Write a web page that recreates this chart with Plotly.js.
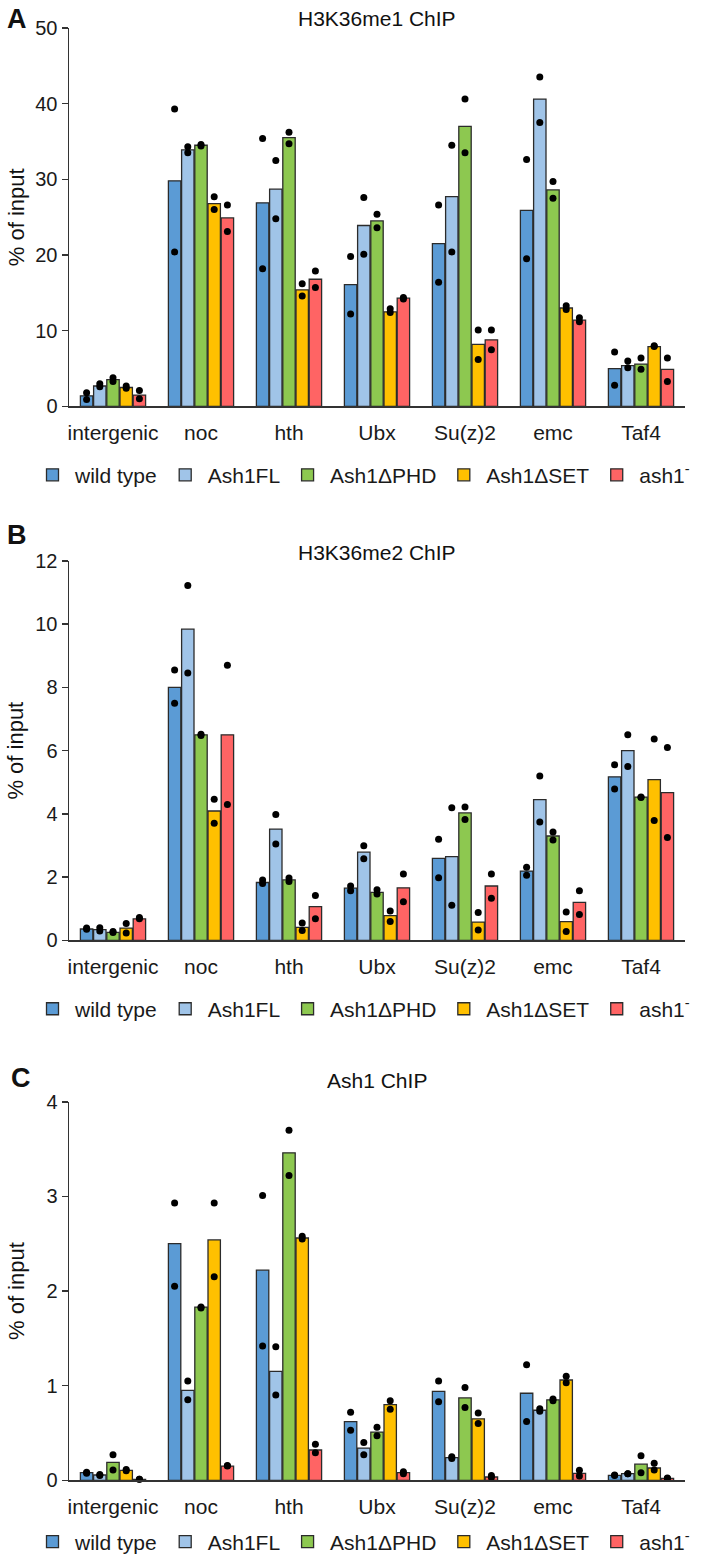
<!DOCTYPE html>
<html>
<head>
<meta charset="utf-8">
<script src="https://cdn.plot.ly/plotly-3.0.1.min.js"></script>
<style>
  body { margin: 0; background: #fff; }
  #chart { width: 709px; height: 1563px; }
</style>
</head>
<body>
<div id="chart"></div>
<script>
// Loci on the x axis
const genes = ['intergenic', 'noc', 'hth', 'Ubx', 'Su(z)2', 'emc', 'Taf4'];

// Strains (one bar per strain in each group)
const strains = ['wild type', 'Ash1FL', 'Ash1\u0394PHD', 'Ash1\u0394SET', 'ash1<sup>-</sup>'];
const strainColors = ['#5b9bd5', '#a0c4e8', '#8dc850', '#ffc000', '#ff6464'];

// A: H3K36me1 ChIP, % of input (rows follow strains)
const me1Bar = [
    [1.4, 29.8, 26.9, 16.1, 21.5, 25.9, 5.0],
    [2.7, 33.9, 28.7, 23.9, 27.7, 40.6, 5.4],
    [3.55, 34.5, 35.5, 24.5, 37.0, 28.6, 5.6],
    [2.5, 26.8, 15.4, 12.5, 8.2, 13.0, 7.9],
    [1.5, 24.9, 16.8, 14.3, 8.8, 11.4, 4.9]
];
const me1Rep1 = [
    [1.8, 39.3, 35.4, 19.8, 26.6, 32.6, 7.2],
    [3.0, 34.3, 32.5, 27.6, 34.5, 43.5, 6.0],
    [3.8, 34.6, 36.2, 25.4, 40.6, 29.7, 6.4],
    [2.7, 27.7, 16.2, 12.9, 10.1, 13.3, 8.0],
    [2.1, 26.6, 17.9, 14.4, 10.1, 11.7, 6.4]
];
const me1Rep2 = [
    [0.9, 20.4, 18.2, 12.2, 16.4, 19.5, 2.8],
    [2.6, 33.5, 24.8, 20.1, 20.4, 37.5, 5.1],
    [3.3, 34.4, 34.7, 23.6, 33.5, 27.5, 4.9],
    [2.4, 26.0, 14.6, 12.4, 6.2, 12.8, 7.9],
    [1.0, 23.1, 15.7, 14.2, 7.5, 11.2, 3.3]
];

// B: H3K36me2 ChIP
const me2Bar = [
    [0.36, 8.0, 1.83, 1.65, 2.59, 2.19, 5.17],
    [0.34, 9.84, 3.52, 2.79, 2.65, 4.45, 6.0],
    [0.25, 6.5, 1.91, 1.52, 4.03, 3.3, 4.53],
    [0.39, 4.09, 0.41, 0.78, 0.58, 0.59, 5.08],
    [0.68, 6.5, 1.07, 1.66, 1.72, 1.2, 4.67]
];
const me2Rep1 = [
    [0.39, 8.55, 1.91, 1.72, 3.2, 2.31, 5.55],
    [0.4, 11.22, 3.98, 2.99, 4.19, 5.2, 6.5],
    [0.28, 6.52, 1.97, 1.6, 4.22, 3.43, 4.53],
    [0.53, 4.46, 0.55, 0.93, 0.88, 0.9, 6.37],
    [0.72, 8.7, 1.42, 2.1, 2.1, 1.57, 6.1]
];
const me2Rep2 = [
    [0.35, 7.5, 1.8, 1.57, 1.98, 2.06, 4.79],
    [0.3, 8.45, 3.05, 2.58, 1.11, 3.74, 5.5],
    [0.25, 6.48, 1.86, 1.47, 3.82, 3.17, 4.52],
    [0.23, 3.7, 0.31, 0.6, 0.33, 0.28, 3.79],
    [0.68, 4.3, 0.68, 1.22, 1.33, 0.82, 3.25]
];

// C: Ash1 ChIP
const ashBar = [
    [0.08, 2.5, 2.22, 0.62, 0.94, 0.92, 0.053],
    [0.056, 0.95, 1.15, 0.34, 0.24, 0.74, 0.07],
    [0.19, 1.83, 3.46, 0.51, 0.87, 0.85, 0.17],
    [0.105, 2.54, 2.56, 0.8, 0.65, 1.06, 0.13],
    [0.01, 0.15, 0.32, 0.08, 0.035, 0.074, 0.02]
];
const ashRep1 = [
    [0.085, 2.93, 3.01, 0.72, 1.05, 1.22, 0.055],
    [0.06, 1.05, 1.41, 0.40, 0.25, 0.755, 0.07],
    [0.27, 1.83, 3.7, 0.56, 0.98, 0.86, 0.26],
    [0.115, 2.93, 2.58, 0.84, 0.71, 1.1, 0.18],
    [0.01, 0.155, 0.38, 0.09, 0.05, 0.105, 0.025]
];
const ashRep2 = [
    [0.075, 2.05, 1.42, 0.53, 0.83, 0.62, 0.05],
    [0.05, 0.85, 0.9, 0.27, 0.23, 0.73, 0.07],
    [0.11, 1.82, 3.22, 0.47, 0.77, 0.84, 0.08],
    [0.1, 2.15, 2.55, 0.75, 0.6, 1.03, 0.11],
    [0.01, 0.15, 0.29, 0.07, 0.03, 0.045, 0.02]
];

const FONT = 'Liberation Sans, Arial, sans-serif';
const INK = '#1a1a1a';

const data = [];

// one panel = 5 grouped bar traces + 5 grouped dot traces on its own axes
function addPanel(n, bars, rep1, rep2) {
    const xa = n === 1 ? 'x' : 'x' + n;
    const ya = n === 1 ? 'y' : 'y' + n;
    const lg = n === 1 ? 'legend' : 'legend' + n;
    strains.forEach((s, i) => {
        data.push({
            type: 'bar',
            x: genes,
            y: bars[i],
            name: s,
            xaxis: xa,
            yaxis: ya,
            legend: lg,
            offsetgroup: 's' + i,
            marker: { color: strainColors[i], line: { color: '#2b2b2b', width: 1.3 } },
            hoverinfo: 'y'
        });
    });
    strains.forEach((s, i) => {
        data.push({
            type: 'scatter',
            mode: 'markers',
            x: genes.concat(genes),
            y: rep1[i].concat(rep2[i]),
            xaxis: xa,
            yaxis: ya,
            offsetgroup: 's' + i,
            showlegend: false,
            cliponaxis: false,
            marker: { color: '#000', size: 7 },
            hoverinfo: 'y'
        });
    });
}

addPanel(1, me1Bar, me1Rep1, me1Rep2);
addPanel(2, me2Bar, me2Rep1, me2Rep2);
addPanel(3, ashBar, ashRep1, ashRep2);

const W = 709, H = 1563;
const px = v => v / W;
const py = v => 1 - v / H;
const xDomain = [px(69), px(685)];

function xAxis(anchor) {
    return {
        domain: xDomain,
        anchor: anchor,
        showline: true,
        linecolor: '#333',
        linewidth: 1.5,
        ticks: '',
        showgrid: false,
        zeroline: false,
        tickfont: { family: FONT, size: 21, color: INK },
        ticklabelstandoff: 7
    };
}

function yAxis(anchor, top, bottom, max, step) {
    return {
        domain: [py(bottom), py(top)],
        anchor: anchor,
        range: [0, max],
        dtick: step,
        showline: true,
        linecolor: '#333',
        linewidth: 1.5,
        ticks: 'outside',
        ticklen: 6,
        tickwidth: 1.5,
        tickcolor: '#333',
        showgrid: false,
        zeroline: false,
        tickfont: { family: FONT, size: 20, color: INK }
    };
}

function legendAt(y) {
    return {
        orientation: 'h',
        x: px(30),
        xanchor: 'left',
        y: py(y),
        yanchor: 'middle',
        itemwidth: 35,
        font: { family: FONT, size: 21, color: INK },
        bgcolor: 'rgba(0,0,0,0)',
        itemclick: false,
        itemdoubleclick: false
    };
}

function label(text, x, y, size, bold) {
    return {
        text: bold ? '<b>' + text + '</b>' : text,
        xref: 'paper', yref: 'paper',
        x: px(x), y: py(y),
        xanchor: 'center', yanchor: 'middle',
        showarrow: false,
        font: { family: FONT, size: size, color: '#111' }
    };
}

function yTitle(top, bottom) {
    const a = label('% of input', 16, (top + bottom) / 2, 22, false);
    a.textangle = -90;
    return a;
}

const layout = {
    width: W,
    height: H,
    margin: { l: 0, r: 0, t: 0, b: 0 },
    paper_bgcolor: '#fff',
    plot_bgcolor: '#fff',
    barmode: 'group',
    bargap: 0.25,
    bargroupgap: 0.06,
    scattermode: 'group',
    font: { family: FONT, color: INK },
    xaxis: xAxis('y'),
    yaxis: yAxis('x', 28, 408, 50, 10),
    xaxis2: xAxis('y2'),
    yaxis2: yAxis('x2', 563, 944, 12, 2),
    xaxis3: xAxis('y3'),
    yaxis3: yAxis('x3', 1106, 1486, 4, 1),
    legend: legendAt(477),
    legend2: legendAt(1013),
    legend3: legendAt(1548),
    annotations: [
        label('A', 17, 19, 27, true),
        label('B', 17, 537, 27, true),
        label('C', 21, 1082, 27, true),
        label('H3K36me1 ChIP', 377, 19, 21, false),
        label('H3K36me2 ChIP', 377, 555, 21, false),
        label('Ash1 ChIP', 377, 1085, 21, false),
        yTitle(28, 408),
        yTitle(563, 944),
        yTitle(1106, 1486)
    ]
};

Plotly.newPlot('chart', data, layout, { displayModeBar: false, staticPlot: true });
</script>
</body>
</html>
